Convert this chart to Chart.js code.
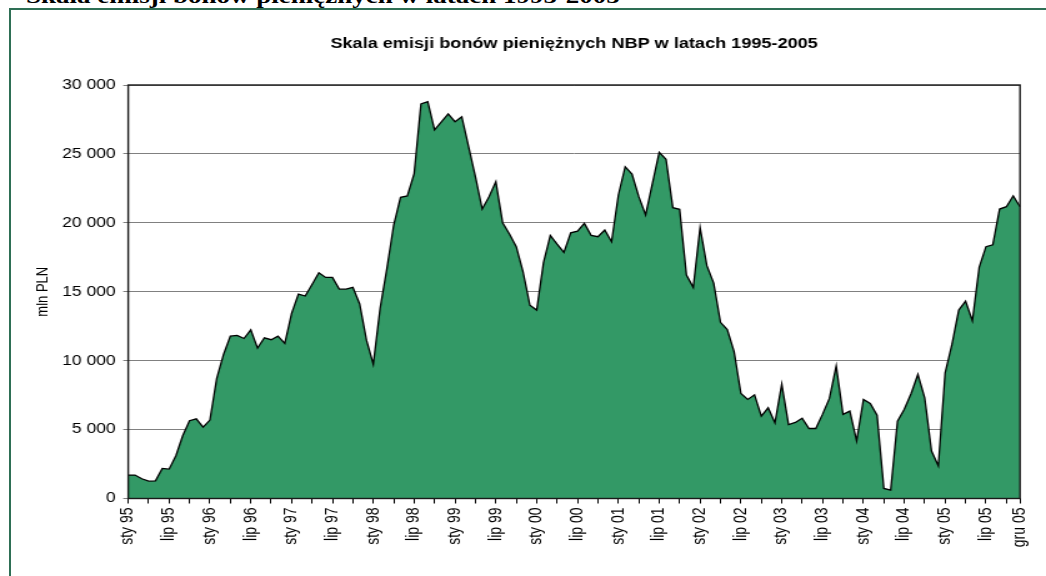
<!DOCTYPE html>
<html lang="pl">
<head>
<meta charset="utf-8">
<title>Skala emisji bonów pieniężnych NBP w latach 1995-2005</title>
<script src="https://cdn.jsdelivr.net/npm/chart.js@4.4.1/dist/chart.umd.min.js"></script>
<style>
  html, body { margin: 0; padding: 0; background: #fff; overflow: hidden; width: 1046px; height: 576px; }
  #naglowek { position: absolute; left: 26px; top: -15px; font: bold 21.6px "Liberation Serif", "Times New Roman", serif; line-height: 22px; white-space: nowrap; transform: scaleX(1.25); transform-origin: 0 0; }
  #ramka { position: absolute; left: 9px; top: 8px; width: 1100px; height: 700px; border: 2px solid #2e6f55; box-sizing: border-box; }
  #wykres { position: absolute; left: 0; top: 0; }
</style>
</head>
<body>
<div id="naglowek">Skala emisji bonów pieniężnych w latach 1995-2005</div>
<div id="ramka"></div>
<canvas id="wykres" width="837" height="576" style="width:1046px;height:576px"></canvas>
<script>
console.log("wykres bonów NBP");

// miesiące i lata (kategorie osi X)
const miesiace = ["sty", "lut", "mar", "kwi", "maj", "cze", "lip", "sie", "wrz", "paź", "lis", "gru"];
const lata = ["95", "96", "97", "98", "99", "00", "01", "02", "03", "04", "05"];

// emisja bonów pieniężnych, mln PLN (odczyt z wykresu)
const emisja1995 = [1700, 1700, 1430, 1260, 1280, 2180, 2130, 3100, 4550, 5640, 5780, 5180];
const emisja1996 = [5690, 8710, 10450, 11780, 11830, 11610, 12240, 10910, 11660, 11520, 11780, 11250];
const emisja1997 = [13430, 14830, 14690, 15530, 16380, 16040, 16040, 15190, 15190, 15320, 14110, 11490];
const emisja1998 = [9750, 13790, 16690, 19840, 21850, 21950, 23560, 28620, 28790, 26740, 27320, 27900];
const emisja1999 = [27340, 27700, 25530, 23350, 21000, 21900, 22990, 20010, 19190, 18270, 16450, 14030];
const emisja2000 = [13670, 17110, 19090, 18460, 17860, 19280, 19400, 19960, 19090, 18990, 19480, 18630];
const emisja2001 = [22020, 24070, 23540, 21900, 20570, 22860, 25110, 24610, 21100, 20980, 16210, 15320];
const emisja2002 = [19650, 16890, 15630, 12780, 12250, 10650, 7620, 7190, 7520, 5980, 6580, 5490];
const emisja2003 = [8300, 5370, 5520, 5830, 5080, 5080, 6120, 7260, 9610, 6100, 6340, 4190];
const emisja2004 = [7190, 6900, 6050, 730, 600, 5610, 6480, 7620, 9000, 7310, 3440, 2370];
const emisja2005 = [9120, 11180, 13670, 14320, 12900, 16770, 18270, 18410, 21000, 21170, 21950, 21170];

// podpisy widoczne na osi X
const etykietyOsi = ["sty 95", "lip 95", "sty 96", "lip 96", "sty 97", "lip 97", "sty 98", "lip 98",
    "sty 99", "lip 99", "sty 00", "lip 00", "sty 01", "lip 01", "sty 02", "lip 02", "sty 03", "lip 03",
    "sty 04", "lip 04", "sty 05", "lip 05", "gru 05"];

const tytul = "Skala emisji bonów pieniężnych NBP w latach 1995-2005";

let kategorie = [];
lata.forEach(r => miesiace.forEach(m => kategorie.push(m + " " + r)));

let wartosci = [].concat(emisja1995, emisja1996, emisja1997, emisja1998, emisja1999, emisja2000,
    emisja2001, emisja2002, emisja2003, emisja2004, emisja2005);

Chart.defaults.font.family = "Arial, 'Liberation Sans', sans-serif";
Chart.defaults.color = "#000";

// tytuł nad obszarem wykresu + obramowanie obszaru
const ramkaWykresu = {
    id: "ramkaWykresu",
    afterDatasetsDraw(chart) {
        const a = chart.chartArea;
        const ctx = chart.ctx;
        ctx.save();
        ctx.strokeStyle = "#1a1a1a";
        ctx.lineWidth = 1.4;
        ctx.strokeRect(a.left, a.top, a.right - a.left, a.bottom - a.top);
        ctx.restore();
    },
    afterDraw(chart) {
        const a = chart.chartArea;
        const ctx = chart.ctx;
        ctx.save();
        ctx.font = "bold 14.5px Arial, 'Liberation Sans', sans-serif";
        ctx.fillStyle = "#000";
        ctx.textAlign = "center";
        ctx.textBaseline = "middle";
        ctx.fillText(tytul, (a.left + a.right) / 2, 44);
        ctx.restore();
    }
};

new Chart(document.getElementById("wykres"), {
    type: "line",
    data: {
        labels: kategorie,
        datasets: [{
            label: "Emisja bonów",
            data: wartosci,
            borderColor: "#000",
            backgroundColor: "#339966",
            borderWidth: 1.3,
            fill: "origin",
            pointRadius: 0,
            tension: 0
        }]
    },
    options: {
        responsive: false,
        devicePixelRatio: 1,
        animation: false,
        layout: { padding: { left: 0, right: 18.4, top: 85, bottom: 0 } },
        plugins: {
            legend: { display: false },
            tooltip: { enabled: false },
            title: { display: false }
        },
        scales: {
            x: {
                offset: false,
                afterBuildTicks: scale => {
                    scale.ticks = scale.ticks.filter(t => t.value % 3 === 0 || t.value === kategorie.length - 1);
                },
                afterFit: scale => { scale.height = 77.5; },
                grid: { drawOnChartArea: false, drawTicks: true, tickLength: 5, color: "#000" },
                border: { display: true, color: "#000" },
                ticks: {
                    autoSkip: false,
                    maxRotation: 90,
                    minRotation: 90,
                    padding: 4,
                    font: { size: 14 },
                    callback: function(value) {
                        const l = this.getLabelForValue(value);
                        return etykietyOsi.includes(l) ? l : "";
                    }
                }
            },
            y: {
                min: 0,
                max: 30000,
                afterFit: scale => { scale.width = 102.6; },
                grid: { color: "#808080", lineWidth: 1, tickLength: 4 },
                border: { display: true, color: "#000" },
                ticks: {
                    stepSize: 5000,
                    padding: 6,
                    font: { size: 14 },
                    callback: v => String(v).replace(/\B(?=(\d{3})+(?!\d))/g, " ")
                },
                title: {
                    display: true,
                    text: "mln PLN",
                    font: { size: 13 },
                    padding: { top: 27, bottom: 0 }
                }
            }
        }
    },
    plugins: [ramkaWykresu]
});
</script>
</body>
</html>
